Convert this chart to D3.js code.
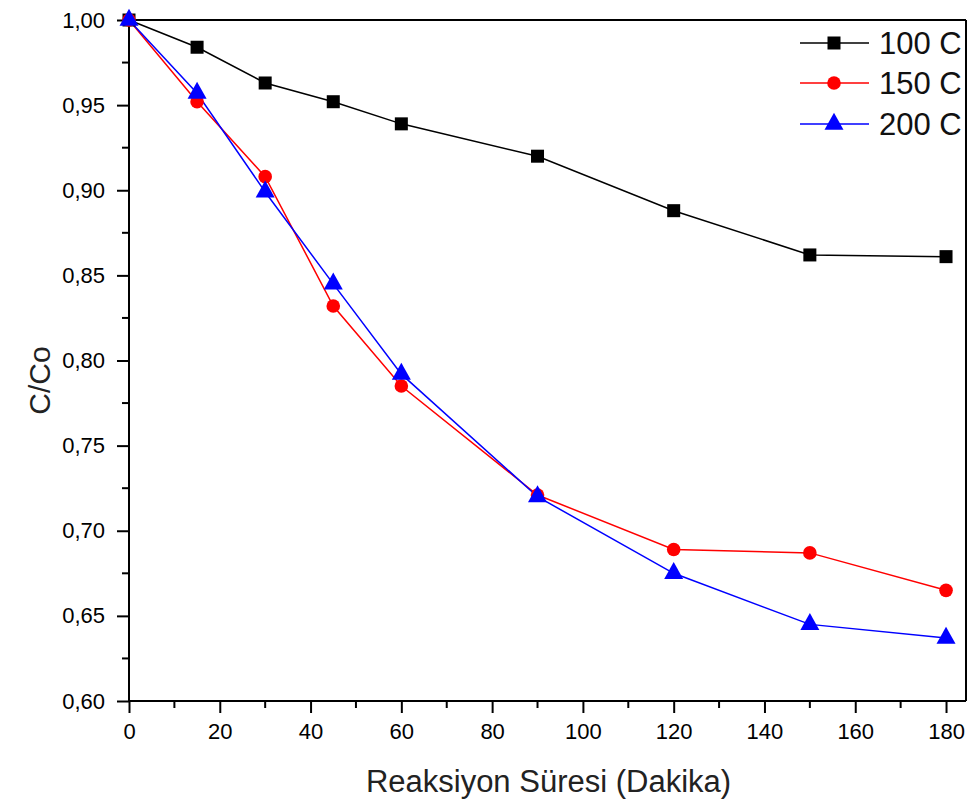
<!DOCTYPE html>
<html>
<head>
<meta charset="utf-8">
<script src="https://cdn.jsdelivr.net/npm/d3@7"></script>
<style>
  html, body { margin: 0; padding: 0; background: #fff; }
  svg { display: block; font-family: "Liberation Sans", Arial, sans-serif; }
</style>
</head>
<body>
<svg id="chart" width="972" height="806"></svg>
<script>
const times = [0, 15, 30, 45, 60, 90, 120, 150, 180];
const series100 = [1.000, 0.984, 0.963, 0.952, 0.939, 0.920, 0.888, 0.862, 0.861];
const series150 = [1.000, 0.952, 0.908, 0.832, 0.785, 0.721, 0.689, 0.687, 0.665];
const series200 = [1.000, 0.957, 0.899, 0.845, 0.792, 0.720, 0.675, 0.645, 0.637];
const seriesNames = ["100 C", "150 C", "200 C"];
const xTicks = [0, 20, 40, 60, 80, 100, 120, 140, 160, 180];
const yTicks = [0.60, 0.65, 0.70, 0.75, 0.80, 0.85, 0.90, 0.95, 1.00];
const xTitle = "Reaksiyon Süresi (Dakika)";
const yTitle = "C/Co";

(function () {
const svg = d3.select("#chart");
const pLeft = 129, pRight = 966, pTop = 20, pBottom = 701;

const x = d3.scaleLinear().domain([0, 184.4]).range([pLeft, pRight]);
const y = d3.scaleLinear().domain([0.60, 1.00]).range([pBottom, pTop]);

const fmt = v => d3.format(".2f")(v).replace(".", ",");

// Frame top and right
svg.append("line").attr("x1", pLeft).attr("x2", pRight).attr("y1", pTop).attr("y2", pTop)
  .attr("stroke", "#000").attr("stroke-width", 2);
svg.append("line").attr("x1", pRight).attr("x2", pRight).attr("y1", pTop).attr("y2", pBottom)
  .attr("stroke", "#000").attr("stroke-width", 2);

// Minor ticks
const xMinor = d3.range(10, 181, 20);
const yMinor = d3.range(0.625, 1.0, 0.05);

const xAxis = d3.axisBottom(x).tickValues(xTicks).tickFormat(d3.format("d")).tickSize(12).tickPadding(10);
const gx = svg.append("g").attr("transform", `translate(0,${pBottom})`).call(xAxis);
gx.select(".domain").attr("d", `M${pLeft},0H${pRight}`).attr("stroke-width", 2);
gx.selectAll(".tick line").attr("stroke-width", 2);
gx.selectAll(".tick text").attr("font-size", 22).attr("fill", "#000")
  .attr("font-family", "'Liberation Sans', Arial, sans-serif");
gx.selectAll(".minor").data(xMinor).enter().append("line")
  .attr("x1", d => x(d)).attr("x2", d => x(d)).attr("y1", 0).attr("y2", 7)
  .attr("stroke", "#000").attr("stroke-width", 2);

const yAxis = d3.axisLeft(y).tickValues(yTicks).tickFormat(fmt).tickSize(12).tickPadding(12);
const gy = svg.append("g").attr("transform", `translate(${pLeft},0)`).call(yAxis);
gy.select(".domain").attr("d", `M0,${pTop}V${pBottom}`).attr("stroke-width", 2);
gy.selectAll(".tick line").attr("stroke-width", 2);
gy.selectAll(".tick text").attr("font-size", 22).attr("fill", "#000")
  .attr("font-family", "'Liberation Sans', Arial, sans-serif");
gy.selectAll(".minor").data(yMinor).enter().append("line")
  .attr("x1", 0).attr("x2", -7).attr("y1", d => y(d)).attr("y2", d => y(d))
  .attr("stroke", "#000").attr("stroke-width", 2);

// Axis titles
svg.append("text").attr("x", (pLeft + pRight) / 2 + 1).attr("y", 792)
  .attr("text-anchor", "middle").attr("font-size", 31).attr("fill", "#222").text(xTitle);
svg.append("text").attr("transform", `translate(50,${(pTop + pBottom) / 2 + 20}) rotate(-90)`)
  .attr("text-anchor", "middle").attr("font-size", 30).attr("fill", "#222").text(yTitle);

// Marker generators
function square(g, cx, cy, color) {
  g.append("rect").attr("x", cx - 6.5).attr("y", cy - 6.5).attr("width", 13).attr("height", 13).attr("fill", color);
}
function circle(g, cx, cy, color) {
  g.append("circle").attr("cx", cx).attr("cy", cy).attr("r", 6.8).attr("fill", color);
}
function triangle(g, cx, cy, color) {
  const w = 19, h = 17;
  g.append("path").attr("d", `M${cx},${cy - h * 2 / 3}L${cx + w / 2},${cy + h / 3}L${cx - w / 2},${cy + h / 3}Z`).attr("fill", color);
}

const seriesList = [
  { name: seriesNames[0], values: series100, color: "#000000", marker: square },
  { name: seriesNames[1], values: series150, color: "#ff0000", marker: circle },
  { name: seriesNames[2], values: series200, color: "#0000ff", marker: triangle }
];

const line = d3.line().x(d => x(d[0])).y(d => y(d[1]));

seriesList.forEach(s => {
  const pts = times.map((t, i) => [t, s.values[i]]);
  svg.append("path").datum(pts).attr("d", line).attr("fill", "none")
    .attr("stroke", s.color).attr("stroke-width", 1.5);
});
seriesList.forEach(s => {
  const g = svg.append("g");
  times.forEach((t, i) => s.marker(g, x(t), y(s.values[i]), s.color));
});

// Legend
const legY = [43, 83, 124];
seriesList.forEach((s, i) => {
  const g = svg.append("g");
  g.append("line").attr("x1", 800).attr("x2", 869).attr("y1", legY[i]).attr("y2", legY[i])
    .attr("stroke", s.color).attr("stroke-width", 1.5);
  s.marker(g, 834, legY[i], s.color);
  g.append("text").attr("x", 879).attr("y", legY[i] + 11).attr("font-size", 31)
    .attr("fill", "#111").text(s.name);
});
})();
</script>
</body>
</html>
